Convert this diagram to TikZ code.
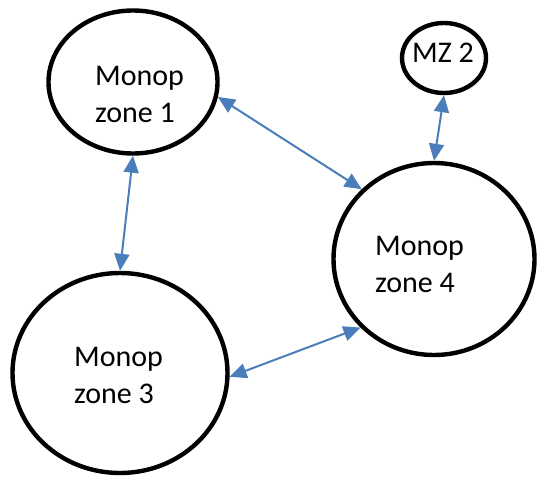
\documentclass[tikz,border=0pt]{standalone}
\usepackage{fontspec}
\setmainfont{Carlito}
\usetikzlibrary{shapes.geometric,arrows.meta}
\definecolor{linkblue}{RGB}{74,126,187}
\begin{document}
\begin{tikzpicture}[x=1pt,y=-1pt,
  zone/.style={ellipse,draw=black,line width=4.4pt,inner sep=0pt,fill=white},
  lbl/.style={inner sep=0pt,align=left,font=\fontsize{30}{37}\selectfont},
  conn/.style={draw=linkblue,line width=2pt,{Triangle[length=17pt,width=15pt]}-{Triangle[length=17pt,width=15pt]}}]
\useasboundingbox (0,0) rectangle (537,476);
\node[zone,minimum width=169pt,minimum height=143pt] (z1) at (133,82) {};
\node[zone,minimum width=84pt,minimum height=70pt] (mz2) at (444,58) {};
\node[zone,minimum width=201pt,minimum height=192pt] (z4) at (434,259) {};
\node[zone,minimum width=215pt,minimum height=200pt] (z3) at (120,373) {};
\node[lbl,anchor=west] (t1) at (95,94) {Monop\\zone 1};
\node[lbl] (t2) at (443,52.5) {MZ 2};
\node[lbl,anchor=west] (t4) at (375,264.5) {Monop\\zone 4};
\node[lbl,anchor=west] (t3) at (74,375) {Monop\\zone 3};
\draw[conn] (z1.-10) -- (z4.136);
\draw[conn] (z1.-90) -- (z3.90);
\draw[conn] (mz2.-90) -- (z4.90);
\draw[conn] (z3.-2) -- (z4.223);
\end{tikzpicture}
\end{document}
